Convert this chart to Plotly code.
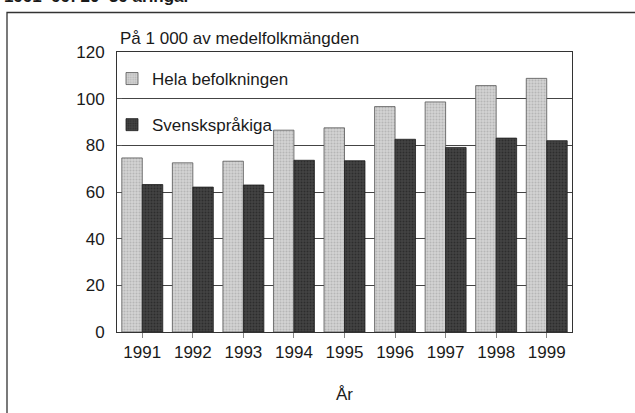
import plotly.graph_objects as go

years = ["1991", "1992", "1993", "1994", "1995", "1996", "1997", "1998", "1999"]
hela = [74.6, 72.5, 73.2, 86.5, 87.5, 96.6, 98.6, 105.6, 108.7]
svensk = [63.2, 62.1, 63.0, 73.6, 73.4, 82.6, 79.1, 83.1, 82.0]
series_names = ["Hela befolkningen", "Svenskspråkiga"]
y_ticks = [0, 20, 40, 60, 80, 100, 120]

FONT = "Liberation Sans Narrow, Arial Narrow, Liberation Sans, Arial, sans-serif"

W, H = 635, 413
L, R, T, B = 117, 63, 52, 81
pw, ph = W - L - R, H - T - B

def px(x):
    return (x - L) / pw

def py(y):
    return (H - B - y) / ph

fig = go.Figure()
fig.add_trace(go.Bar(
    x=years, y=hela, name=series_names[0], legendgroup="a",
    marker=dict(color="#cdcdcd", line=dict(color="#555555", width=0.8),
                pattern=dict(shape=".", fgcolor="#9a9a9a", bgcolor="#d2d2d2", size=3, solidity=0.35)),
))
fig.add_trace(go.Bar(
    x=years, y=svensk, name=series_names[1], legendgroup="b",
    marker=dict(color="#363636", line=dict(color="#1e1e1e", width=0.8),
                pattern=dict(shape=".", fgcolor="#151515", bgcolor="#444444", size=3, solidity=0.35)),
))

fig.update_layout(
    width=W, height=H,
    margin=dict(l=L, r=R, t=T, b=B),
    paper_bgcolor="white", plot_bgcolor="white",
    barmode="group", bargap=0.19, bargroupgap=0,
    font=dict(family=FONT, size=17, color="#1a1a1a"),
    showlegend=True,
    legend=dict(x=px(112), y=py(61), xanchor="left", yanchor="top",
                traceorder="grouped", tracegroupgap=21,
                bgcolor="rgba(0,0,0,0)", font=dict(size=17, family=FONT),
                itemclick=False),
    xaxis=dict(
        showline=True, linecolor="#333333", linewidth=1, mirror=True,
        ticks="outside", ticklen=5, tickcolor="#888888", tickwidth=1,
        title=dict(text="År", font=dict(size=17, family=FONT), standoff=26),
        tickfont=dict(size=17, family=FONT),
    ),
    yaxis=dict(
        range=[0, 120], tickvals=y_ticks,
        showline=True, linecolor="#333333", linewidth=1, mirror=True,
        ticks="inside", ticklen=5, tickcolor="#555555",
        showgrid=True, gridcolor="#444444", gridwidth=1,
        tickfont=dict(size=17, family=FONT), ticklabelstandoff=8,
        zeroline=False,
    ),
    shapes=[dict(type="rect", xref="paper", yref="paper",
                 x0=px(7), x1=px(645), y0=py(430), y1=py(12.5),
                 line=dict(color="#333333", width=1.3), layer="below")],
    annotations=[
        dict(text="På 1 000 av medelfolkmängden", xref="paper", yref="paper",
             x=px(118), y=py(50), xanchor="left", yanchor="bottom", showarrow=False,
             font=dict(size=17, family=FONT)),
        dict(text="<b>1991–99: 20–39 åringar</b>", xref="paper", yref="paper",
             x=px(2), y=py(8), xanchor="left", yanchor="bottom", showarrow=False,
             font=dict(size=17, family=FONT)),
    ],
)

fig.write_html("out.html", config={"displayModeBar": False},
               post_script="document.body.style.margin='0px';")
